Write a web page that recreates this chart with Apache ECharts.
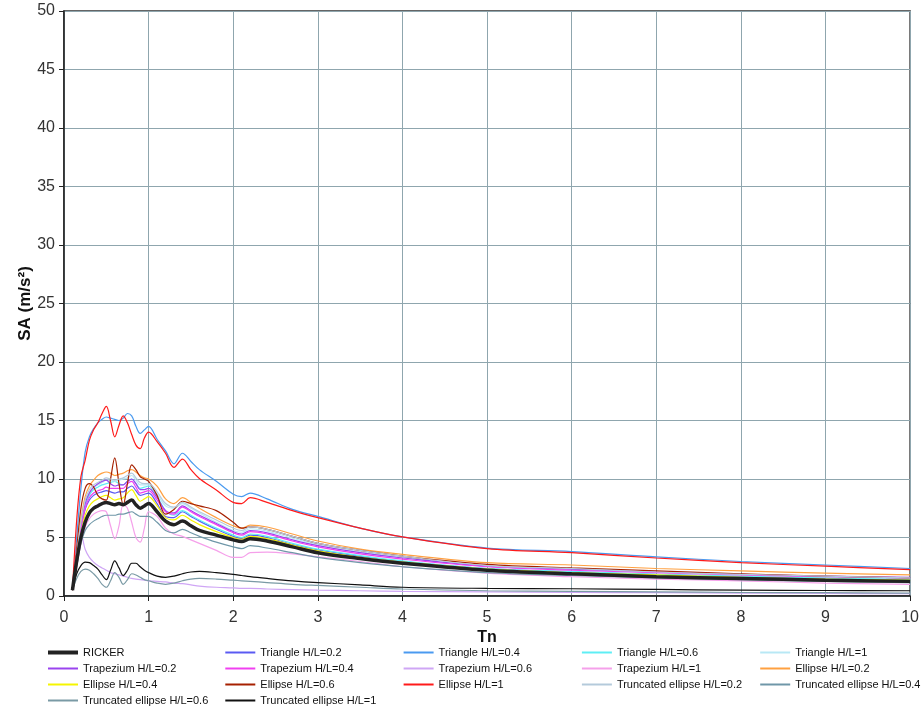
<!DOCTYPE html>
<html>
<head>
<meta charset="utf-8">
<script src="https://cdn.jsdelivr.net/npm/echarts@6/dist/echarts.min.js"></script>
<style>html,body{margin:0;padding:0;background:#fff}#c{width:922px;height:708px}</style>
</head>
<body>
<div id="c"></div>
<script>
// Periods (Tn)
const tn = [0.1,0.15,0.2,0.25,0.3,0.35,0.4,0.45,0.5,0.55,0.6,0.65,0.7,0.75,0.8,0.85,0.9,0.95,1.0,
  1.1,1.2,1.3,1.4,1.5,1.6,1.8,2.0,2.1,2.2,2.4,2.7,3,3.5,4,5,6,7,8,9,10];

const ricker = [0.5,3.0,5.0,6.3,7.1,7.5,7.7,7.9,8.0,7.9,7.8,7.9,7.8,8.0,8.2,7.8,7.5,7.7,7.9,
  7.2,6.4,6.1,6.4,6.0,5.6,5.2,4.8,4.65,4.9,4.7,4.2,3.7,3.2,2.8,2.2,1.9,1.65,1.5,1.35,1.25];
const triangle02 = [0.5,3.0,5.6,7.4,8.2,8.6,8.8,8.9,9.0,8.9,8.8,8.9,8.9,9.2,9.4,9.0,8.6,8.7,8.8,
  7.9,6.8,6.7,7.2,6.8,6.4,5.7,5.1,4.9,5.2,5.0,4.4,3.95,3.4,2.95,2.35,2.05,1.85,1.65,1.5,1.4];
const triangle04 = [0.5,5.0,9.2,12.3,13.6,14.3,14.8,15.1,15.3,15.2,15.1,15.0,15.2,15.6,15.4,14.5,13.9,14.2,14.5,
  13.4,12.4,11.3,12.2,11.5,10.8,9.8,8.7,8.5,8.8,8.3,7.4,6.8,5.8,5.05,4.1,3.8,3.35,2.95,2.65,2.35];
const triangle06 = [0.5,3.2,5.9,7.7,8.6,9.1,9.3,9.5,9.6,9.7,9.8,9.6,9.5,9.8,10.0,9.6,9.2,9.3,9.4,
  8.5,7.3,6.9,7.3,6.9,6.5,5.8,5.2,5.0,5.3,5.1,4.5,4.0,3.45,3.0,2.35,2.1,1.85,1.7,1.55,1.45];
const triangle1 = [0.5,3.4,6.2,8.0,8.9,9.3,9.5,9.7,9.9,9.9,9.8,9.9,10.0,10.1,10.3,9.9,9.5,9.5,9.5,
  8.7,7.7,7.5,7.9,7.5,7.1,6.3,5.6,5.45,5.75,5.55,4.95,4.4,3.8,3.3,2.55,2.3,2.0,1.8,1.65,1.5];
const trapezium02 = [0.5,3.2,6.0,7.9,8.8,9.3,9.6,9.8,9.9,9.6,9.4,9.5,9.5,9.8,10.0,9.6,9.1,9.1,9.2,
  8.4,7.3,7.1,7.7,7.3,6.9,6.2,5.5,5.3,5.6,5.4,4.8,4.3,3.7,3.25,2.55,2.3,2.05,1.85,1.7,1.6];
const trapezium04 = [0.5,3.0,5.7,7.5,8.4,8.8,9.0,9.1,9.3,9.2,9.2,9.2,9.2,9.6,9.8,9.3,8.8,8.9,9.0,
  8.2,7.2,7.0,7.6,7.2,6.8,6.1,5.4,5.2,5.5,5.3,4.7,4.2,3.6,3.15,2.5,2.2,2.0,1.8,1.65,1.55];
const trapezium06 = [0.5,4.2,5.3,4.0,3.3,2.9,2.6,2.4,2.2,2.0,1.9,1.8,1.7,1.6,1.5,1.45,1.4,1.35,1.3,
  1.25,1.2,1.1,1.05,0.95,0.85,0.75,0.7,0.65,0.65,0.6,0.55,0.5,0.45,0.4,0.35,0.3,0.28,0.25,0.22,0.2];
const trapezium1 = [0.5,2.5,4.5,5.9,6.6,7.0,7.2,7.3,7.2,6.0,4.9,6.0,7.8,7.5,6.3,5.0,4.6,5.8,7.2,
  6.8,5.8,5.3,5.1,4.8,4.5,3.9,3.3,3.3,3.7,3.75,3.6,3.35,2.95,2.5,1.95,1.65,1.45,1.3,1.1,1.0];
const ellipse02 = [0.5,3.5,6.5,8.5,9.4,9.9,10.3,10.5,10.6,10.5,10.3,10.4,10.5,10.7,10.8,10.6,10.3,10.1,10.0,
  9.4,8.3,7.9,8.4,8.0,7.5,6.7,6.0,5.8,6.05,5.9,5.3,4.7,4.0,3.55,2.85,2.65,2.35,2.15,1.95,1.8];
const ellipse04 = [0.5,2.8,5.2,6.9,7.7,8.1,8.3,8.5,8.6,8.4,8.2,8.3,8.4,8.8,9.1,8.6,8.1,8.3,8.5,
  7.7,6.7,6.5,6.9,6.5,6.1,5.5,5.0,4.85,5.1,4.9,4.35,3.85,3.3,2.9,2.3,2.0,1.8,1.6,1.45,1.35];
const ellipse06 = [0.5,4.0,7.5,9.2,9.6,9.3,8.6,8.3,8.2,10.0,11.8,9.6,7.8,9.6,11.2,10.8,10.2,10.0,9.8,
  8.6,7.0,7.4,8.1,7.9,7.7,7.3,6.3,5.8,5.9,5.7,5.1,4.5,3.9,3.4,2.7,2.4,2.15,1.9,1.7,1.55];
const ellipse1 = [0.5,6.5,10.2,11.6,13.3,14.2,14.8,15.6,16.2,15.0,13.6,14.6,15.4,14.8,13.8,12.9,12.6,13.5,14.0,
  13.2,12.2,11.0,11.7,10.8,10.05,9.06,8.0,7.9,8.4,8.0,7.3,6.7,5.8,5.05,4.05,3.7,3.25,2.85,2.55,2.25];
const truncEllipse02 = [0.5,3.5,6.3,8.2,9.1,9.5,9.7,9.9,10.1,10.0,9.9,10.0,10.1,10.3,10.5,10.1,9.7,9.6,9.6,
  8.9,7.9,7.6,8.0,7.6,7.2,6.5,5.8,5.6,5.9,5.7,5.1,4.5,3.9,3.4,2.6,2.35,2.05,1.85,1.7,1.55];
const truncEllipse04 = [0.5,2.5,4.5,5.6,6.1,6.4,6.6,6.8,6.9,6.9,6.9,7.0,7.0,7.1,7.2,7.0,6.8,6.8,6.8,
  6.3,5.6,5.4,5.7,5.4,5.1,4.6,4.2,4.05,4.3,4.1,3.7,3.3,2.85,2.5,2.0,1.75,1.55,1.4,1.25,1.15];
const truncEllipse06 = [0.5,1.5,2.1,2.3,2.2,1.9,1.5,1.0,0.75,1.3,2.0,1.6,1.0,1.4,1.9,1.8,1.6,1.4,1.3,
  1.1,1.0,1.1,1.3,1.45,1.5,1.45,1.35,1.3,1.25,1.15,1.0,0.9,0.75,0.6,0.45,0.4,0.35,0.3,0.28,0.25];
const truncEllipse1 = [0.5,1.9,2.6,2.9,2.85,2.6,2.3,1.8,1.4,2.2,3.0,2.4,1.75,2.2,2.8,2.8,2.5,2.2,2.0,
  1.7,1.6,1.7,1.9,2.05,2.1,2.0,1.85,1.75,1.65,1.5,1.3,1.15,0.95,0.75,0.65,0.62,0.56,0.5,0.47,0.45];

const seriesNames = ['RICKER','Triangle H/L=0.2','Triangle H/L=0.4','Triangle H/L=0.6','Triangle H/L=1',
  'Trapezium H/L=0.2','Trapezium H/L=0.4','Trapezium H/L=0.6','Trapezium H/L=1',
  'Ellipse H/L=0.2','Ellipse H/L=0.4','Ellipse H/L=0.6','Ellipse H/L=1',
  'Truncated ellipse H/L=0.2','Truncated ellipse H/L=0.4','Truncated ellipse H/L=0.6','Truncated ellipse H/L=1'];
const seriesValues = [ricker,triangle02,triangle04,triangle06,triangle1,trapezium02,trapezium04,trapezium06,trapezium1,
  ellipse02,ellipse04,ellipse06,ellipse1,truncEllipse02,truncEllipse04,truncEllipse06,truncEllipse1];
const seriesColors = ['#222222','#5a5af2','#4a9af0','#5eeef5','#b8e8f5','#9a44ee','#f040f0','#cfa6f5','#f5a0ea',
  '#ffa040','#f5f500','#a62000','#ff1a1a','#b4cadb','#6f97a8','#7a9aa5','#111111'];

const yTicks = [0,5,10,15,20,25,30,35,40,45,50];
const xTicks = [0,1,2,3,4,5,6,7,8,9,10];

const series = seriesNames.map((n, i) => ({
  name: n,
  type: 'line',
  smooth: 0.35,
  symbol: 'none',
  z: i === 0 ? 4 : 2,
  lineStyle: { color: seriesColors[i], width: i === 0 ? 3.5 : 1.2 },
  itemStyle: { color: seriesColors[i] },
  data: tn.map((t, k) => [t, seriesValues[i][k]])
}));

// legend columns (5 columns, rows filled left to right)
const legendCols = [[],[],[],[],[]];
seriesNames.forEach((n, i) => legendCols[i % 5].push(
  i === 0 ? { name: n, lineStyle: { width: 4 } } : { name: n, lineStyle: { width: 2 } }
));
const legends = legendCols.map((col, c) => ({
  orient: 'vertical',
  left: 41 + c * 178.3,
  top: 642,
  height: 80,
  itemWidth: 30,
  itemHeight: 10,
  itemGap: 5,
  itemStyle: { opacity: 0, borderWidth: 0 },
  data: col,
  textStyle: { fontFamily: 'Liberation Sans', fontSize: 11, color: '#111', lineHeight: 10 }
}));

const chart = echarts.init(document.getElementById('c'), null, { renderer: 'canvas' });
chart.setOption({
  animation: false,
  backgroundColor: '#fff',
  grid: { left: 64, right: 9, top: 11, bottom: 112, show: true, borderColor: '#333', borderWidth: 1.5 },
  legend: legends,
  xAxis: {
    type: 'value', min: xTicks[0], max: xTicks[xTicks.length - 1], interval: 1,
    name: 'Tn', nameLocation: 'middle', nameGap: 34, nameMoveOverlap: false,
    nameTextStyle: { fontFamily: 'Liberation Sans', fontSize: 16, fontWeight: 'bold', color: '#111' },
    axisLine: { lineStyle: { color: '#222', width: 1.5 } },
    axisTick: { show: true, length: 5, lineStyle: { color: '#222' } },
    axisLabel: { fontFamily: 'Liberation Sans', fontSize: 16, color: '#333', margin: 14 },
    splitLine: { show: true, lineStyle: { color: '#8fa6ae', width: 1 } }
  },
  yAxis: {
    type: 'value', min: yTicks[0], max: yTicks[yTicks.length - 1], interval: 5,
    name: 'SA (m/s²)', nameLocation: 'middle', nameGap: 30, nameMoveOverlap: false,
    nameTextStyle: { fontFamily: 'Liberation Sans', fontSize: 17, fontWeight: 'bold', color: '#111' },
    axisLine: { show: true, lineStyle: { color: '#222', width: 1.5 } },
    axisTick: { show: true, length: 5, lineStyle: { color: '#222' } },
    axisLabel: { fontFamily: 'Liberation Sans', fontSize: 16, color: '#333', margin: 9 },
    splitLine: { show: true, lineStyle: { color: '#8fa6ae', width: 1 } }
  },
  series: series
});
</script>
</body>
</html>
